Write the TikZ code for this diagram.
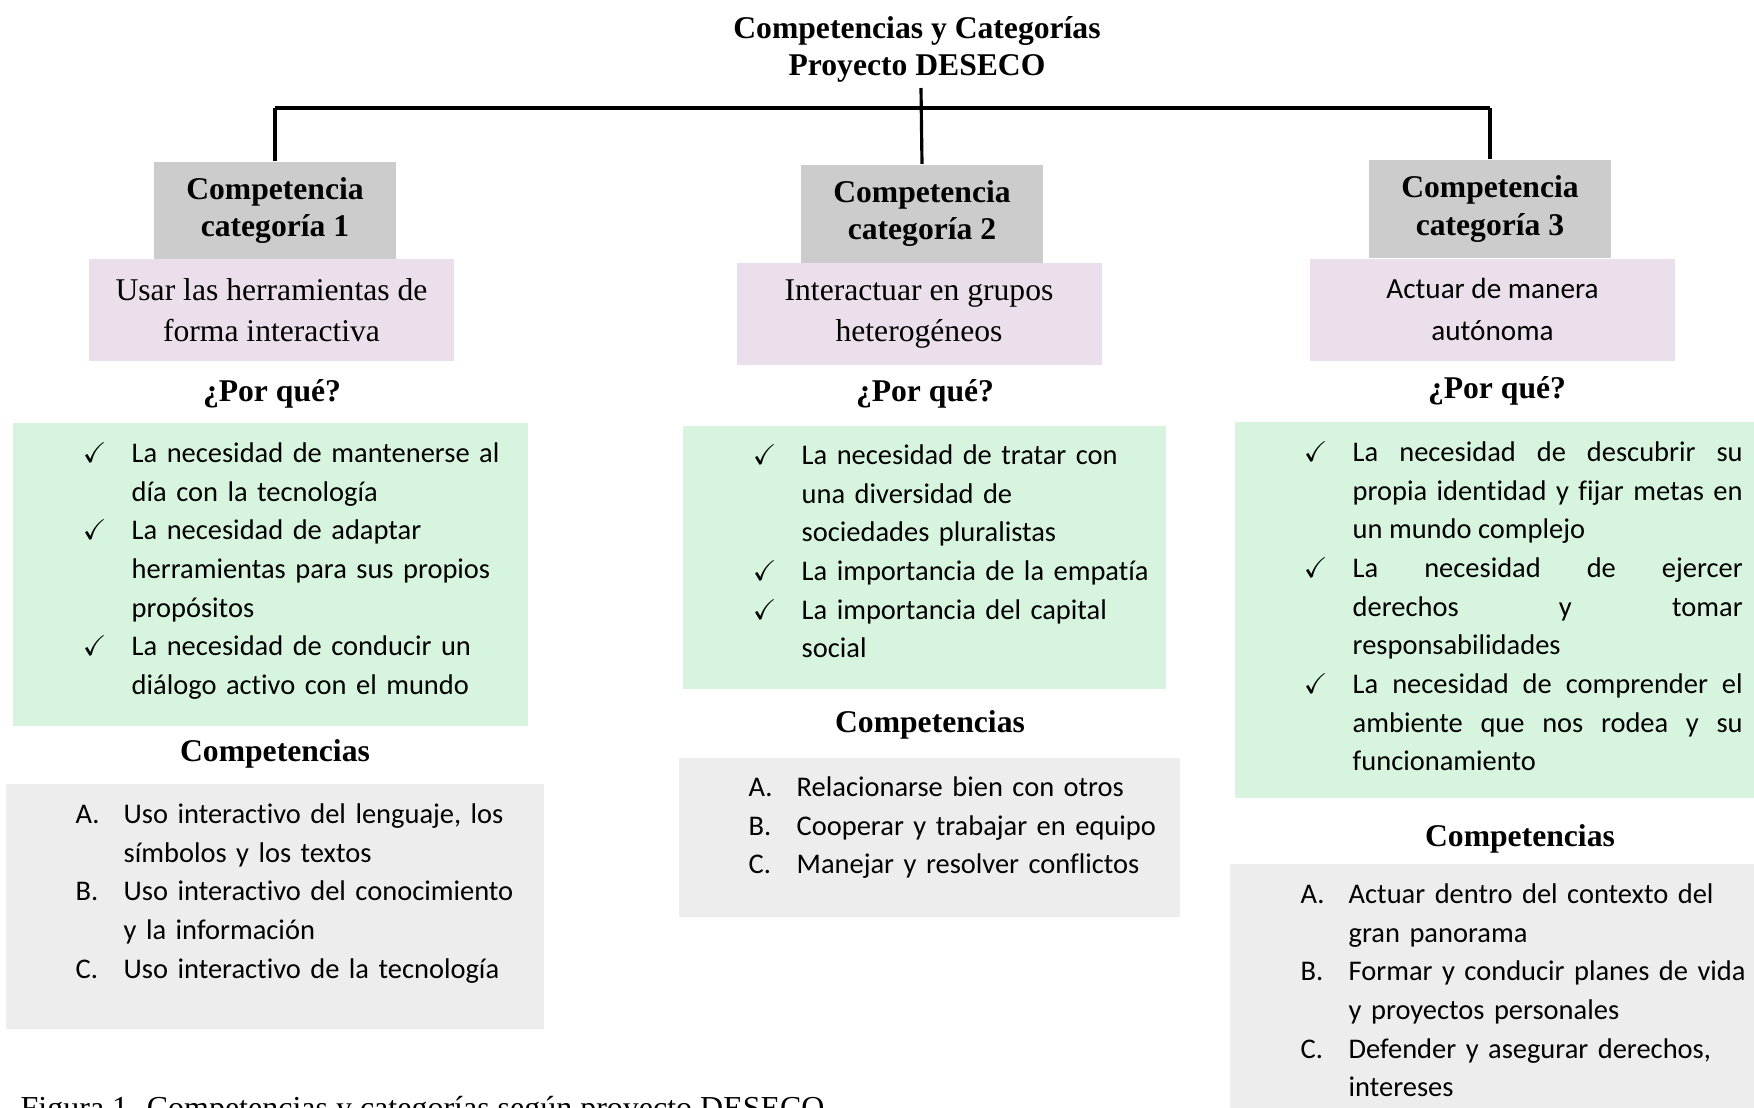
\documentclass[tikz,border=0pt]{standalone}
\usepackage{amssymb}
\usepackage{fontspec}
\setmainfont{Liberation Serif}
\newfontfamily\calibri[Ligatures=NoCommon]{Carlito}
\setlength{\parindent}{0pt}
\tolerance=10000
\hbadness=10000

\definecolor{hdrgray}{RGB}{204,204,204}
\definecolor{descpink}{RGB}{234,223,234}
\definecolor{whygreen}{RGB}{214,244,222}
\definecolor{listgray}{RGB}{237,237,237}

\newcommand{\tick}{\leavevmode\llap{\checkmark\hspace{0.25cm}}}
\newcommand{\letra}[1]{\leavevmode\llap{\makebox[0.48cm][l]{#1}}}
\newcommand{\itemfont}{\calibri\fontsize{8.1}{11}\selectfont}

\begin{document}
\begin{tikzpicture}
	\tikzstyle{hdr} = [fill=hdrgray, minimum width=2.42cm, minimum height=0.98cm, inner sep=0pt, align=center, font=\bfseries\fontsize{9}{10.8}\selectfont]
	\tikzstyle{desc} = [fill=descpink, minimum width=3.65cm, minimum height=1.02cm, inner sep=0pt, align=center, font=\fontsize{9}{11.8}\selectfont]
	\tikzstyle{whybox} = [fill=whygreen, inner sep=0pt]
	\tikzstyle{listbox} = [fill=listgray, inner sep=0pt]
	\tikzstyle{items} = [anchor=north west, inner sep=0pt, text width=4.2cm, align=left, font=\itemfont]
	\tikzstyle{heading} = [font=\bfseries\fontsize{9}{10.5}\selectfont, align=center]
	\tikzstyle{barline} = [line width=1.1pt]
	\tikzstyle{legline} = [line width=0.9pt]
	\useasboundingbox (0,0) rectangle (17.54,-11.08);
	\node[heading] (title) at (9.17,-0.49) {Competencias y Categorías\\Proyecto DESECO};
	\coordinate (top) at (9.21,-0.88);
	\coordinate (bar) at (9.2,-1.08);
	\node[hdr] (cat1) at (2.75,-2.105) {Competencia\\categoría 1};
	\node[hdr] (cat2) at (9.22,-2.135) {Competencia\\categoría 2};
	\node[hdr] (cat3) at (14.90,-2.09) {Competencia\\categoría 3};
	\node[desc] (desc1) at (2.715,-3.10) {Usar las herramientas de\\forma interactiva};
	\node[desc] (desc2) at (9.19,-3.14) {Interactuar en grupos\\heterogéneos};
	\node[desc, font=\calibri\fontsize{8.3}{11.7}\selectfont] (desc3) at (14.925,-3.095) {Actuar de manera\\autónoma};
	\draw[legline] (top) -- (cat2.north);
	\draw[barline] (cat1.north |- bar) -- (cat3.north |- bar);
	\draw[legline] (cat1.north) -- (cat1.north |- bar);
	\draw[legline] (cat3.north) -- (cat3.north |- bar);
	\node[heading] (pq1) at (2.72,-3.94) {¿Por qué?};
	\node[heading] (pq2) at (9.25,-3.94) {¿Por qué?};
	\node[heading] (pq3) at (14.97,-3.91) {¿Por qué?};
	\node[whybox, minimum width=5.15cm, minimum height=3.03cm] (why1) at (2.705,-5.745) {};
	\node[whybox, minimum width=4.83cm, minimum height=2.63cm] (why2) at (9.245,-5.575) {};
	\node[whybox, minimum width=5.45cm, minimum height=3.76cm] (why3) at (15.075,-6.10) {};
	\node[items] (t1) at (1.31,-4.42) {\tick La necesidad de mantenerse al\\día con la tecnología\\\tick La necesidad de adaptar\\herramientas para sus propios\\propósitos\\\tick La necesidad de conducir un\\diálogo activo con el mundo};
	\node[items] (t2) at (8.01,-4.44) {\tick La necesidad de tratar con\\una diversidad de\\sociedades pluralistas\\\tick La importancia de la empatía\\\tick La importancia del capital\\social};
	\node[items, text width=3.90cm, align=justify] (t3) at (13.52,-4.41) {\tick La necesidad de descubrir su\linebreak propia identidad y fijar metas en\linebreak un mundo complejo\par
	\tick La necesidad de ejercer\linebreak derechos y tomar\linebreak responsabilidades\par
	\tick La necesidad de comprender el\linebreak ambiente que nos rodea y su\linebreak funcionamiento};
	\node[heading] (comp1) at (2.75,-7.54) {Competencias};
	\node[heading] (comp2) at (9.30,-7.25) {Competencias};
	\node[heading] (comp3) at (15.20,-8.39) {Competencias};
	\node[listbox, minimum width=5.38cm, minimum height=2.45cm] (list1) at (2.75,-9.065) {};
	\node[listbox, minimum width=5.01cm, minimum height=1.59cm] (list2) at (9.295,-8.375) {};
	\node[listbox, minimum width=5.50cm, minimum height=2.66cm] (list3) at (15.05,-9.97) {};
	\node[items] (l1) at (1.23,-8.03) {\letra{A.}Uso interactivo del lenguaje, los\\símbolos y los textos\\\letra{B.}Uso interactivo del conocimiento\\y la información\\\letra{C.}Uso interactivo de la tecnología};
	\node[items] (l2) at (7.96,-7.76) {\letra{A.}Relacionarse bien con otros\\\letra{B.}Cooperar y trabajar en equipo\\\letra{C.}Manejar y resolver conflictos};
	\node[items] (l3) at (13.48,-8.83) {\letra{A.}Actuar dentro del contexto del\\gran panorama\\\letra{B.}Formar y conducir planes de vida\\y proyectos personales\\\letra{C.}Defender y asegurar derechos,\\intereses};
	\node[anchor=base west, inner sep=0pt, font=\fontsize{9.1}{11}\selectfont] (caption) at (0.20,-11.18) {Figura 1. Competencias y categorías según proyecto DESECO};
\end{tikzpicture}
\end{document}
